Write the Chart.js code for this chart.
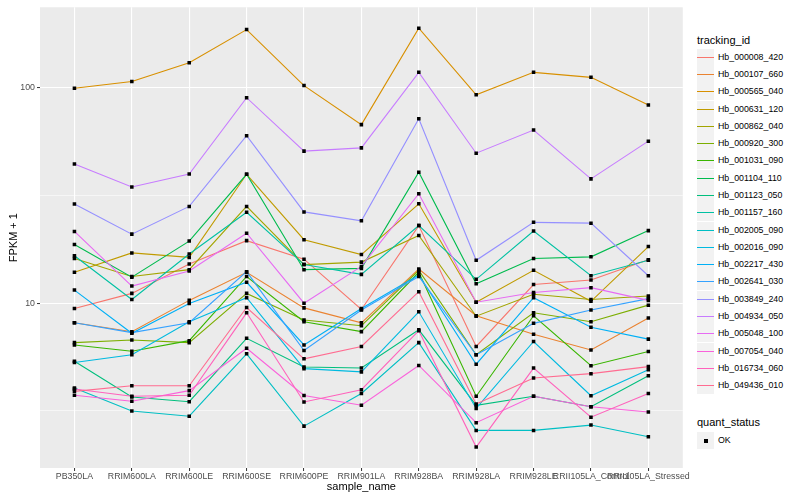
<!DOCTYPE html>
<html lang="en">
<head>
<meta charset="UTF-8">
<title>FPKM + 1 by sample</title>
<script src="https://cdn.jsdelivr.net/npm/chart.js"></script>
<style>
  body { margin: 0; background: #fff; font-family: "Liberation Sans", Arial, sans-serif; }
  #wrap { position: relative; width: 800px; height: 500px; overflow: hidden; }
  #plot { position: absolute; left: 0; top: 0; }
  .lg-title { position: absolute; left: 697px; font-size: 11px; line-height: 13px; color: #000; }
  .lg-item { position: absolute; left: 697px; height: 17px; width: 100px; }
  .lg-key { position: absolute; left: 0; top: 0; width: 17px; height: 17px; background: #F2F2F2; }
  .lg-line { position: absolute; left: 0; right: 0; top: 8px; height: 1px; }
  .lg-dot { position: absolute; left: 7px; top: 7px; width: 4px; height: 4px; background: #000; }
  .lg-text { position: absolute; left: 21px; top: 0; line-height: 17px; font-size: 8.8px; color: #000; white-space: nowrap; }
</style>
</head>
<body>
<div id="wrap">
  <canvas id="plot" width="690" height="500"></canvas>
  <div id="legend"></div>
</div>
<script>
// x categories
const samples = ['PB350LA', 'RRIM600LA', 'RRIM600LE', 'RRIM600SE', 'RRIM600PE', 'RRIM901LA',
  'RRIM928BA', 'RRIM928LA', 'RRIM928LE', 'RRII105LA_Control', 'RRII105LA_Stressed'];

const trackingIds = ['Hb_000008_420', 'Hb_000107_660', 'Hb_000565_040', 'Hb_000631_120', 'Hb_000862_040',
  'Hb_000920_300', 'Hb_001031_090', 'Hb_001104_110', 'Hb_001123_050', 'Hb_001157_160',
  'Hb_002005_090', 'Hb_002016_090', 'Hb_002217_430', 'Hb_002641_030', 'Hb_003849_240',
  'Hb_004934_050', 'Hb_005048_100', 'Hb_007054_040', 'Hb_016734_060', 'Hb_049436_010'];

const lineColors = ['#F8766D', '#EA8331', '#D89000', '#C09B00', '#A3A500', '#7CAE00', '#39B600', '#00BB4E',
  '#00BF7D', '#00C1A3', '#00BFC4', '#00BAE0', '#00B0F6', '#35A2FF', '#9590FF', '#C77CFF',
  '#E76BF3', '#FA62DB', '#FF62BC', '#FF6C91'];

// FPKM + 1, one value per sample
const hb_000008_420 = [9.45, 11.1, 15.2, 19.5, 16.0, 9.35, 22.9, 6.3, 12.2, 12.8, 15.9];
const hb_000107_660 = [8.11, 7.37, 10.3, 13.9, 9.51, 8.11, 14.4, 8.74, 7.18, 6.07, 8.53];
const hb_000565_040 = [99.3, 106.6, 130.4, 185.7, 102.1, 67.3, 188.4, 92.5, 117.6, 111.5, 82.9];
const hb_000631_120 = [13.9, 17.1, 16.3, 39.6, 19.7, 16.8, 28.9, 10.1, 14.2, 10.2, 18.3];
const hb_000862_040 = [16.1, 13.3, 14.3, 28.1, 15.1, 15.5, 20.6, 8.7, 11.0, 10.4, 10.8];
const hb_000920_300 = [6.56, 6.75, 6.56, 11.1, 8.35, 7.86, 14.2, 5.76, 9.02, 8.20, 9.79];
const hb_001031_090 = [6.40, 5.98, 6.70, 13.3, 8.20, 7.38, 13.9, 3.70, 8.74, 5.13, 5.97];
const hb_001104_110 = [18.7, 13.2, 19.4, 39.6, 14.3, 14.5, 40.5, 12.3, 16.1, 16.4, 21.7];
const hb_001123_050 = [5.38, 3.67, 3.49, 6.87, 5.06, 5.00, 7.52, 3.36, 3.70, 3.31, 4.61];
const hb_001157_160 = [16.6, 10.4, 16.9, 26.4, 15.1, 13.6, 22.9, 12.9, 21.6, 13.4, 15.8];
const hb_002005_090 = [4.04, 3.16, 2.99, 5.82, 2.69, 3.81, 6.56, 2.57, 2.57, 2.72, 2.40];
const hb_002016_090 = [5.31, 5.76, 8.20, 10.6, 4.97, 4.80, 9.12, 3.25, 6.64, 3.72, 4.91];
const hb_002217_430 = [11.5, 7.25, 9.97, 12.5, 6.40, 9.45, 13.5, 5.21, 10.6, 7.73, 6.81];
const hb_002641_030 = [8.11, 7.30, 8.11, 14.0, 6.03, 9.29, 13.3, 5.76, 8.06, 9.29, 10.5];
const hb_003849_240 = [28.8, 20.9, 28.1, 59.8, 26.5, 24.1, 71.7, 15.8, 23.7, 23.5, 13.4];
const hb_004934_050 = [44.2, 34.6, 39.7, 89.7, 50.7, 52.5, 117.6, 49.6, 63.5, 37.7, 56.4];
const hb_005048_100 = [21.5, 12.0, 14.1, 21.1, 10.0, 14.8, 32.2, 10.1, 11.2, 11.8, 10.3];
const hb_007054_040 = [3.74, 3.51, 3.93, 6.18, 3.73, 3.36, 5.14, 2.79, 3.70, 3.31, 3.13];
const hb_016734_060 = [4.00, 3.70, 3.74, 9.02, 3.48, 3.97, 7.45, 2.15, 5.00, 2.96, 3.81];
const hb_049436_010 = [3.90, 4.14, 4.14, 9.55, 5.52, 6.30, 11.3, 3.41, 4.50, 4.71, 5.08];

const seriesValues = [hb_000008_420, hb_000107_660, hb_000565_040, hb_000631_120, hb_000862_040,
  hb_000920_300, hb_001031_090, hb_001104_110, hb_001123_050, hb_001157_160,
  hb_002005_090, hb_002016_090, hb_002217_430, hb_002641_030, hb_003849_240,
  hb_004934_050, hb_005048_100, hb_007054_040, hb_016734_060, hb_049436_010];

const yMajor = [10, 100];
const yMinor = [3.162, 31.62];

const FONT = '"Liberation Sans", Arial, sans-serif';

function toPoints(vals) {
  return vals.map((v, j) => ({ x: j, y: v }));
}

// lines first (later series on top), points above everything
const lineSets = seriesValues.map((vals, i) => ({
  label: trackingIds[i],
  data: toPoints(vals),
  borderColor: lineColors[i],
  borderWidth: 1.1,
  pointRadius: 0,
  tension: 0,
  order: 100 - i
}));
const pointSets = seriesValues.map((vals, i) => ({
  label: 'OK',
  data: toPoints(vals),
  showLine: false,
  pointStyle: 'rect',
  pointRadius: 2.5,
  backgroundColor: '#000',
  borderWidth: 0,
  order: 0
}));

const panelBg = {
  id: 'panelBg',
  beforeDraw(chart) {
    const { ctx, chartArea: a } = chart;
    ctx.save();
    ctx.fillStyle = '#EBEBEB';
    ctx.fillRect(a.left, a.top, a.right - a.left, a.bottom - a.top);
    ctx.restore();
  }
};

const isMajor = ctx => ctx.tick && yMajor.includes(ctx.tick.value);

new Chart(document.getElementById('plot'), {
  type: 'line',
  data: { datasets: lineSets.concat(pointSets) },
  plugins: [panelBg],
  options: {
    responsive: false,
    animation: false,
    layout: { padding: { top: 5, right: 6, left: 0, bottom: 0 } },
    plugins: { legend: { display: false }, tooltip: { enabled: false } },
    scales: {
      x: {
        type: 'linear',
        min: -0.6,
        max: 10.6,
        afterBuildTicks: s => { s.ticks = samples.map((_, i) => ({ value: i })); },
        afterFit: s => { s.height = 32; },
        ticks: {
          callback: v => samples[v] ?? '',
          autoSkip: false, maxRotation: 0, minRotation: 0,
          color: '#4D4D4D', font: { size: 8.8, family: FONT }, padding: 0
        },
        grid: { color: '#FFFFFF', lineWidth: 1.1, tickLength: 3, tickColor: '#333333', tickWidth: 1 },
        border: { display: false },
        title: {
          display: true, text: 'sample_name', color: '#000',
          font: { size: 11, family: FONT }, padding: { top: 0, bottom: 6 }
        }
      },
      y: {
        type: 'logarithmic',
        min: 1.72,
        max: 235.6,
        afterBuildTicks: s => { s.ticks = yMinor.concat(yMajor).sort((a, b) => a - b).map(v => ({ value: v })); },
        afterFit: s => { s.width = 40; },
        ticks: {
          callback: v => yMajor.includes(v) ? String(v) : '',
          color: '#4D4D4D', font: { size: 8.8, family: FONT }, padding: 2
        },
        grid: {
          color: '#FFFFFF',
          lineWidth: ctx => isMajor(ctx) ? 1.1 : 0.55,
          tickLength: 3,
          tickColor: ctx => isMajor(ctx) ? '#333333' : 'rgba(0,0,0,0)',
          tickWidth: 1
        },
        border: { display: false },
        title: {
          display: true, text: 'FPKM + 1', color: '#000',
          font: { size: 11, family: FONT }, padding: { top: 7, bottom: 0 }
        }
      }
    }
  }
});

// ggplot-style legends built as html
const legend = document.getElementById('legend');
function addTitle(text, centerY) {
  const t = document.createElement('div');
  t.className = 'lg-title';
  t.style.top = Math.round(centerY - 6.5) + 'px';
  t.textContent = text;
  legend.appendChild(t);
}
function addItem(label, centerY, color) {
  const it = document.createElement('div');
  it.className = 'lg-item';
  it.style.top = Math.round(centerY - 8.5) + 'px';
  const key = document.createElement('div');
  key.className = 'lg-key';
  const mark = document.createElement('div');
  if (color) { mark.className = 'lg-line'; mark.style.background = color; }
  else { mark.className = 'lg-dot'; }
  key.appendChild(mark);
  const txt = document.createElement('div');
  txt.className = 'lg-text';
  txt.textContent = label;
  it.appendChild(key);
  it.appendChild(txt);
  legend.appendChild(it);
}
addTitle('tracking_id', 40.5);
trackingIds.forEach((id, i) => addItem(id, 57.3 + i * 17.28, lineColors[i]));
addTitle('quant_status', 422);
addItem('OK', 440, null);
</script>
</body>
</html>
